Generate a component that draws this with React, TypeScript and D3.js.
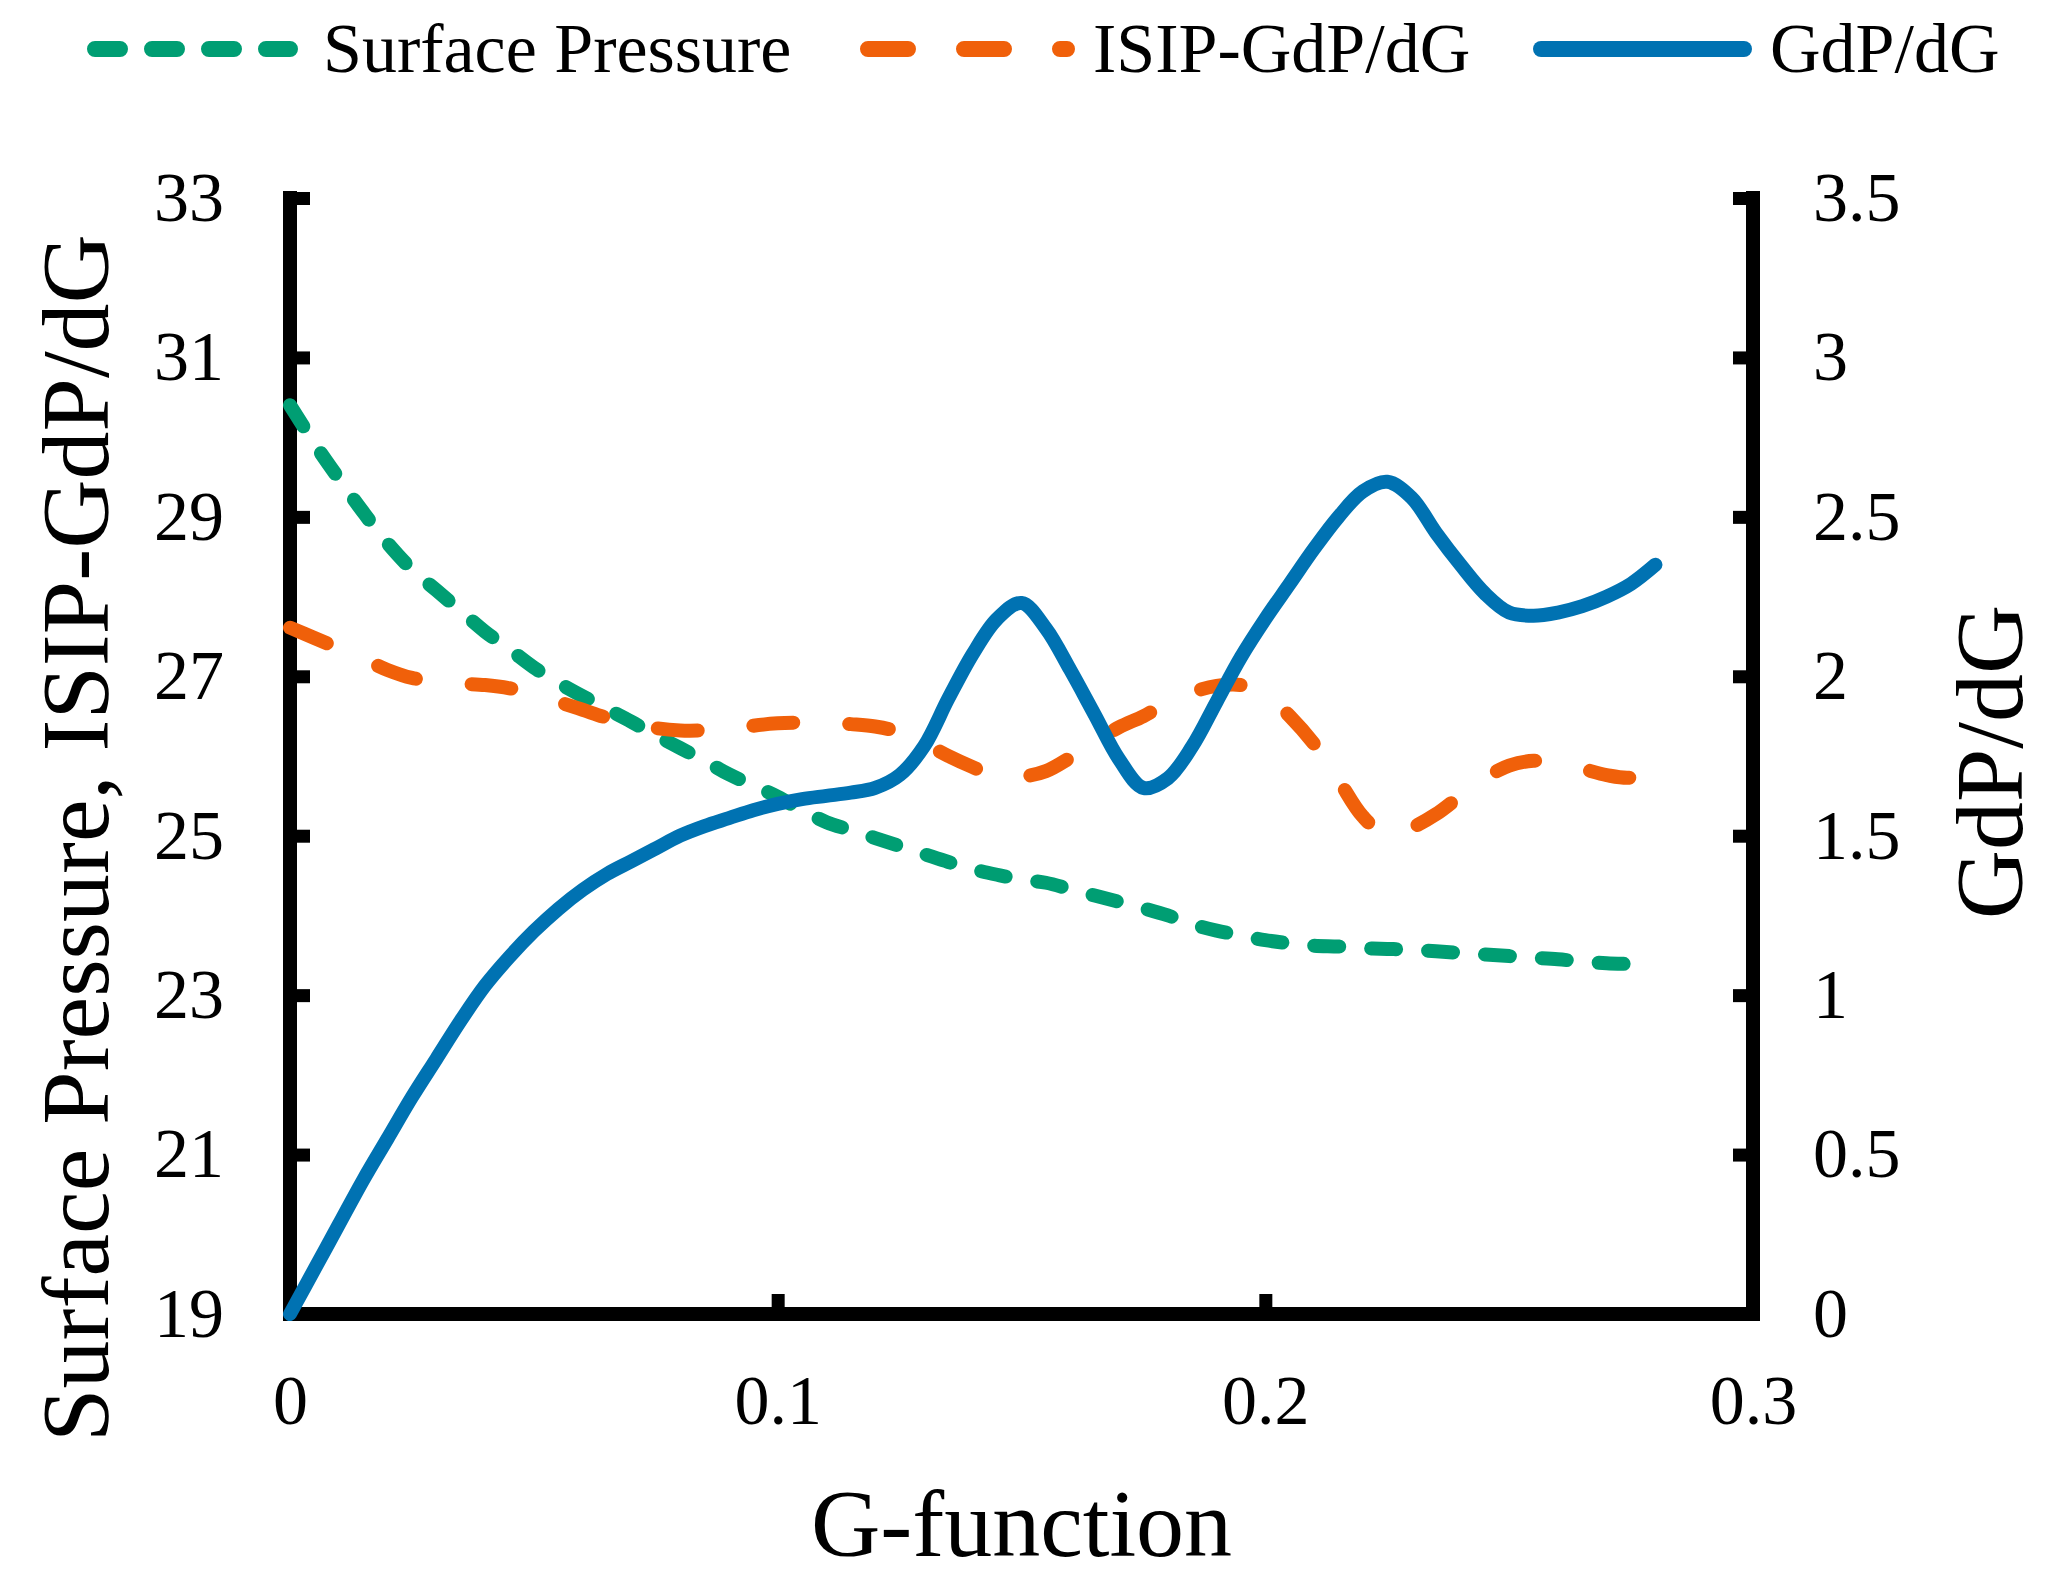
import { useEffect, useRef } from "react";
import * as d3 from "d3";

// G-function samples (every 0.005) shared by the three curves
const gFunction = d3.range(57).map((i) => +(i * 0.005).toFixed(3));

const surfacePressure = [
  30.4, 29.92, 29.48, 29.06, 28.67, 28.34, 28.08, 27.82, 27.56, 27.34,
  27.11, 26.92, 26.75, 26.59, 26.43, 26.26, 26.1, 25.94, 25.77, 25.63,
  25.49, 25.32, 25.17, 25.07, 24.97, 24.87, 24.77, 24.67, 24.58, 24.51,
  24.45, 24.41, 24.33, 24.25, 24.17, 24.09, 24.0, 23.89, 23.81, 23.75,
  23.69, 23.65, 23.62, 23.61, 23.59, 23.58, 23.57, 23.55, 23.53, 23.51,
  23.49, 23.47, 23.45, 23.42, 23.4, 23.39, 23.38,
];

const isipGdpdg = [
  27.61, 27.48, 27.35, 27.22, 27.08, 26.98, 26.94, 26.91, 26.89, 26.85,
  26.78, 26.68, 26.58, 26.48, 26.41, 26.35, 26.32, 26.32, 26.33, 26.38,
  26.41, 26.42, 26.42, 26.4, 26.37, 26.3, 26.16, 26.0, 25.86, 25.74,
  25.74, 25.81, 25.98, 26.18, 26.36, 26.5, 26.67, 26.8, 26.88, 26.89,
  26.78, 26.5, 26.15, 25.7, 25.24, 25.0, 25.1, 25.27, 25.5, 25.72,
  25.88, 25.94, 25.91, 25.84, 25.76, 25.73, 25.84,
];

const gdpdg = [
  0, 0.14, 0.28, 0.42, 0.55, 0.68, 0.8, 0.92, 1.03, 1.12,
  1.2, 1.27, 1.33, 1.38, 1.42, 1.46, 1.5, 1.53, 1.555, 1.58,
  1.6, 1.615, 1.625, 1.635, 1.65, 1.69, 1.78, 1.93, 2.07, 2.18,
  2.23, 2.15, 2.02, 1.88, 1.74, 1.65, 1.68, 1.78, 1.92, 2.06,
  2.18, 2.29, 2.4, 2.5, 2.58, 2.61, 2.56, 2.45, 2.35, 2.26,
  2.2, 2.19, 2.2, 2.22, 2.25, 2.29, 2.35,
];

const xTicks = [0, 0.1, 0.2, 0.3];
const leftTicks = [19, 21, 23, 25, 27, 29, 31, 33];
const rightTicks = [0, 0.5, 1, 1.5, 2, 2.5, 3, 3.5];

const FONT = "'Liberation Serif', 'Times New Roman', serif";

const series = [
  { name: "Surface Pressure", values: surfacePressure, axis: "left", color: "#009E73", dash: "25,32" },
  { name: "ISIP-GdP/dG", values: isipGdpdg, axis: "left", color: "#F0600A", dash: "40,56" },
  { name: "GdP/dG", values: gdpdg, axis: "right", color: "#0072B2", dash: null },
];

export default function App() {
  const ref = useRef<SVGSVGElement>(null);
  const width = 2050;
  const height = 1594;

  useEffect(() => {
    if (!ref.current) return;
    const svg = d3.select(ref.current);
    svg.selectAll("*").remove();

    const margin = { top: 198, right: 297, bottom: 280, left: 290 };
    const x = d3.scaleLinear().domain([0, 0.3]).range([margin.left, width - margin.right]);
    const yLeft = d3.scaleLinear().domain([19, 33]).range([height - margin.bottom, margin.top]);
    const yRight = d3.scaleLinear().domain([0, 3.5]).range([height - margin.bottom, margin.top]);

    svg.append("rect").attr("width", width).attr("height", height).attr("fill", "#fff");

    const styleAxis = (g: d3.Selection<SVGGElement, unknown, null, undefined>) => {
      g.select(".domain").remove();
      g.selectAll(".tick line").attr("stroke", "#000").attr("stroke-width", 13);
      g.selectAll(".tick text")
        .attr("fill", "#000")
        .attr("font-family", FONT)
        .attr("font-size", 70);
    };

    const x0 = x(0);
    const x1 = x(0.3);
    const yb = yLeft(19);
    const yt = yLeft(33);

    // ticks and labels
    svg
      .append("g")
      .attr("transform", `translate(${x0},0)`)
      .call(d3.axisLeft(yLeft).tickValues(leftTicks).tickSizeInner(-20).tickSizeOuter(0).tickPadding(66))
      .call(styleAxis);

    svg
      .append("g")
      .attr("transform", `translate(${x1},0)`)
      .call(
        d3
          .axisRight(yRight)
          .tickValues(rightTicks)
          .tickFormat((d) => String(d))
          .tickSizeInner(-20)
          .tickSizeOuter(0)
          .tickPadding(60)
      )
      .call(styleAxis);

    svg
      .append("g")
      .attr("transform", `translate(0,${yb})`)
      .call(
        d3
          .axisBottom(x)
          .tickValues(xTicks)
          .tickFormat((d) => String(d))
          .tickSizeInner(-20)
          .tickSizeOuter(0)
          .tickPadding(60)
      )
      .call(styleAxis);

    // thick axis lines
    const axisLines = [
      [x0, yt - 7, x0, yb + 7],
      [x1, yt - 7, x1, yb + 7],
      [x0 - 7, yb, x1 + 7, yb],
    ];
    svg
      .append("g")
      .selectAll("line")
      .data(axisLines)
      .enter()
      .append("line")
      .attr("x1", (d) => d[0])
      .attr("y1", (d) => d[1])
      .attr("x2", (d) => d[2])
      .attr("y2", (d) => d[3])
      .attr("stroke", "#000")
      .attr("stroke-width", 14);

    // curves
    series.forEach((s) => {
      const y = s.axis === "left" ? yLeft : yRight;
      const line = d3
        .line<number>()
        .x((_, i) => x(gFunction[i]))
        .y((d) => y(d))
        .curve(d3.curveCatmullRom.alpha(0.5));
      svg
        .append("path")
        .datum(s.values)
        .attr("fill", "none")
        .attr("stroke", s.color)
        .attr("stroke-width", 14)
        .attr("stroke-linecap", "round")
        .attr("stroke-linejoin", "round")
        .attr("stroke-dasharray", s.dash)
        .attr("d", line);
    });

    // legend
    const legendItems = [
      { lineX: 95, textX: 323 },
      { lineX: 868, textX: 1093 },
      { lineX: 1541, textX: 1770 },
    ];
    const legendLen = [195, 199, 203];
    const legend = svg.append("g");
    series.forEach((s, i) => {
      const it = legendItems[i];
      legend
        .append("line")
        .attr("x1", it.lineX)
        .attr("x2", it.lineX + legendLen[i])
        .attr("y1", 49)
        .attr("y2", 49)
        .attr("stroke", s.color)
        .attr("stroke-width", 16)
        .attr("stroke-linecap", "round")
        .attr("stroke-dasharray", s.dash);
      legend
        .append("text")
        .attr("x", it.textX)
        .attr("y", 72)
        .attr("font-family", FONT)
        .attr("font-size", 70)
        .attr("fill", "#000")
        .text(s.name);
    });

    // axis titles
    svg
      .append("text")
      .attr("x", (x0 + x1) / 2)
      .attr("y", 1556)
      .attr("text-anchor", "middle")
      .attr("font-family", FONT)
      .attr("font-size", 96)
      .attr("fill", "#000")
      .text("G-function");

    svg
      .append("text")
      .attr("transform", `translate(108,838) rotate(-90)`)
      .attr("text-anchor", "middle")
      .attr("font-family", FONT)
      .attr("font-size", 96)
      .attr("fill", "#000")
      .text("Surface Pressure, ISIP-GdP/dG");

    svg
      .append("text")
      .attr("transform", `translate(2022,762) rotate(-90)`)
      .attr("text-anchor", "middle")
      .attr("font-family", FONT)
      .attr("font-size", 96)
      .attr("fill", "#000")
      .text("GdP/dG");
  }, []);

  return (
    <svg
      ref={ref}
      width={width}
      height={height}
      style={{ position: "absolute", left: 0, top: 0, display: "block" }}
    />
  );
}
